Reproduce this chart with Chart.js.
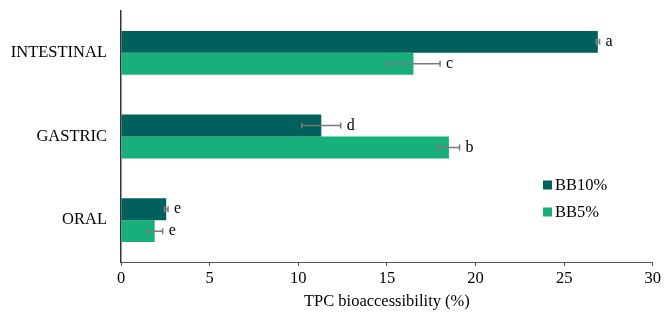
<!DOCTYPE html>
<html>
<head>
<meta charset="utf-8">
<script src="https://cdn.jsdelivr.net/npm/chart.js@4"></script>
<style>
  body { margin: 0; background: #fff; }
</style>
</head>
<body>
<canvas id="chart" width="664" height="316"></canvas>
<script>
const categories = ['INTESTINAL', 'GASTRIC', 'ORAL'];
const bb10 = [26.9, 11.3, 2.55];
const bb5 = [16.5, 18.5, 1.9];
const bb10Err = [0.1, 1.1, 0.1];
const bb5Err = [1.5, 0.6, 0.45];
const bb10Letters = ['a', 'd', 'e'];
const bb5Letters = ['c', 'b', 'e'];
const seriesNames = ['BB10%', 'BB5%'];

const darkTeal = '#00605B';
const green = '#17B07B';
const serif = '"Liberation Serif", "Times New Roman", serif';

Chart.defaults.font.family = serif;
Chart.defaults.font.size = 16.5;
Chart.defaults.color = '#000';

// error bars + significance letters, drawn from the data through the x scale
const errorBars = {
  id: 'errorBars',
  afterDatasetsDraw(chart) {
    const ctx = chart.ctx;
    const xs = chart.scales.x;
    const errs = [bb10Err, bb5Err];
    const letters = [bb10Letters, bb5Letters];
    chart.data.datasets.forEach((ds, di) => {
      const meta = chart.getDatasetMeta(di);
      meta.data.forEach((bar, i) => {
        const v = ds.data[i];
        const e = errs[di][i];
        const x1 = xs.getPixelForValue(v - e);
        const x2 = xs.getPixelForValue(v + e);
        const y = bar.y;
        ctx.save();
        ctx.strokeStyle = '#7a7a7a';
        ctx.lineWidth = 1.5;
        ctx.beginPath();
        ctx.moveTo(x1, y); ctx.lineTo(x2, y);
        ctx.moveTo(x1, y - 3); ctx.lineTo(x1, y + 3);
        ctx.moveTo(x2, y - 3); ctx.lineTo(x2, y + 3);
        ctx.stroke();
        ctx.fillStyle = '#000';
        ctx.font = '16px ' + serif;
        ctx.textAlign = 'left';
        ctx.textBaseline = 'middle';
        ctx.fillText(letters[di][i], Math.max(x2, bar.x) + 6, y);
        ctx.restore();
      });
    });
  }
};

// legend inside the plot area, lower right
const sideLegend = {
  id: 'sideLegend',
  afterDraw(chart) {
    const ctx = chart.ctx;
    const colors = [darkTeal, green];
    ctx.save();
    ctx.font = '16.5px ' + serif;
    ctx.textBaseline = 'middle';
    ctx.textAlign = 'left';
    seriesNames.forEach((name, i) => {
      const cy = 184.5 + i * 27;
      ctx.fillStyle = colors[i];
      ctx.fillRect(543, cy - 4, 9, 9);
      ctx.fillStyle = '#000';
      ctx.fillText(name, 555, cy + 1);
    });
    ctx.restore();
  }
};

const chart = new Chart(document.getElementById('chart'), {
  type: 'bar',
  data: {
    labels: categories,
    datasets: [
      { label: seriesNames[0], data: bb10, backgroundColor: darkTeal },
      { label: seriesNames[1], data: bb5, backgroundColor: green }
    ]
  },
  options: {
    indexAxis: 'y',
    responsive: false,
    animation: false,
    layout: { padding: { top: 11, right: 3, left: 0, bottom: 0 } },
    datasets: { bar: { categoryPercentage: 0.524, barPercentage: 1 } },
    plugins: {
      legend: { display: false },
      tooltip: { enabled: false }
    },
    scales: {
      x: {
        min: 0,
        max: 30,
        ticks: { stepSize: 5, padding: 3, maxRotation: 0 },
        grid: { drawOnChartArea: false, tickLength: 4, color: '#555' },
        border: { color: '#555', width: 1 },
        title: { display: true, text: 'TPC bioaccessibility (%)', padding: { top: 1 } },
        afterFit(scale) { scale.height = 54; }
      },
      y: {
        grid: { display: false },
        border: { color: '#333', width: 1.5 },
        ticks: { padding: 6 },
        afterFit(scale) {
          scale.width = 121;
          scale.paddingTop = 0;
          scale.paddingBottom = 0;
        }
      }
    }
  },
  plugins: [errorBars, sideLegend]
});
</script>
</body>
</html>
